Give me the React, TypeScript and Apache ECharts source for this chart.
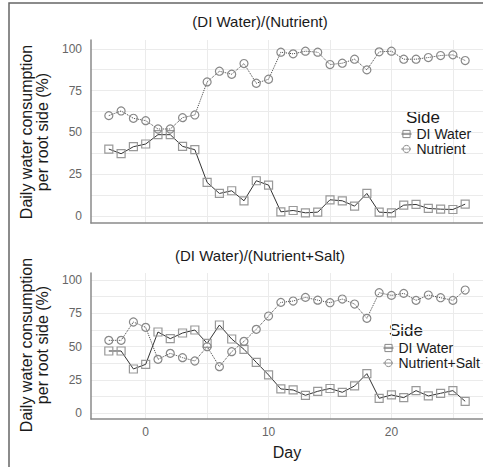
import React, { useEffect, useRef } from "react";
import * as echarts from "echarts";

const days = [-3, -2, -1, 0, 1, 2, 3, 4, 5, 6, 7, 8, 9, 10, 11, 12, 13, 14, 15, 16, 17, 18, 19, 20, 21, 22, 23, 24, 25, 26];

const topDI = [40, 37.2, 41.4, 43, 48.6, 48.6, 41.6, 39.6, 20, 13.4, 15, 9, 21, 18.4, 2.4, 3.2, 1.8, 2.2, 9.6, 9, 5.8, 13.4, 2.2, 1.8, 6.4, 6.8, 4.4, 4, 3.8, 7];
const topNutrient = [60, 62.8, 58.4, 57, 52, 52, 58.8, 60.4, 80.2, 86.6, 84.8, 91.2, 79.4, 81.8, 98, 97, 98.6, 98, 90.6, 91.4, 93.8, 87.4, 98.2, 98.6, 93.8, 93.8, 94.8, 96, 96.4, 93];

const botDI = [46.75, 46.75, 33.25, 36.75, 61, 56, 60.25, 62.5, 52.5, 66.25, 55.75, 48, 38.25, 28.75, 18.25, 17.5, 13.5, 16.5, 18.6, 15.75, 20.5, 29.75, 11.25, 13.75, 11.75, 17, 13, 15, 17, 9];
const botNutrientSalt = [54.75, 54.75, 68.5, 64.5, 40.5, 45, 41.75, 39.25, 50, 35, 46.25, 54, 63, 73, 83.25, 84.25, 87, 84.9, 83, 85.75, 82, 71.25, 90.5, 88.5, 90, 84.75, 88.75, 86.75, 84.75, 92.5];

const xLabelTicks = [0, 10, 20];
const xGridTicks = [0, 5, 10, 15, 20, 25];
const yLabelTicks = [0, 25, 50, 75, 100];
const yGridTicks = [0, 12.5, 25, 37.5, 50, 62.5, 75, 87.5, 100];

const titles = ["(DI Water)/(Nutrient)", "(DI Water)/(Nutrient+Salt)"];
const yTitle = "Daily water consumption\nper root side (%)";

const FONT = "'Liberation Sans', Arial, Helvetica, sans-serif";

function pairs(vals: number[]) {
  return days.map((d, i) => [d, vals[i]]);
}

export default function App() {
  const ref = useRef<HTMLDivElement>(null);
  useEffect(() => {
    if (!ref.current) return;
    const chart = echarts.init(ref.current, null, { renderer: "svg" });
    const gridColor = "#ebebeb";
    const axisLineStyle = { color: "#8a8a8a", width: 1.5 };
    const mkX = (gridIndex: number, showLabels: boolean) => ({
      type: "value",
      gridIndex,
      min: -4.45,
      max: 27.45,
      axisLine: { show: true, onZero: false, lineStyle: axisLineStyle },
      axisTick: { show: false, customValues: xGridTicks },
      axisLabel: {
        show: showLabels,
        customValues: xLabelTicks,
        color: "#666",
        fontSize: 12,
        fontFamily: FONT,
        margin: 7,
      },
      splitLine: { show: true, lineStyle: { color: gridColor, width: 1 } },
      name: showLabels ? "Day" : "",
      nameLocation: "middle",
      nameGap: 25,
      nameTextStyle: { fontSize: 16, fontFamily: FONT, color: "#1a1a1a" },
    });
    const mkY = (gridIndex: number) => ({
      type: "value",
      gridIndex,
      min: -4.3,
      max: 105.3,
      axisLine: { show: true, onZero: false, lineStyle: axisLineStyle },
      axisTick: { show: false, customValues: yGridTicks },
      axisLabel: {
        customValues: yLabelTicks,
        color: "#666",
        fontSize: 12,
        fontFamily: FONT,
        margin: 9,
      },
      splitLine: { show: true, lineStyle: { color: gridColor, width: 1 } },
    });
    const diStyle = (xi: number, name: string, data: number[]) => ({
      type: "line",
      name,
      xAxisIndex: xi,
      yAxisIndex: xi,
      data: pairs(data),
      symbol: "rect",
      symbolSize: 8,
      itemStyle: { color: "transparent", borderColor: "#999", borderWidth: 1.2 },
      lineStyle: { color: "#333", width: 1, type: "solid" },
    });
    const nutStyle = (xi: number, name: string, data: number[]) => ({
      type: "line",
      name,
      xAxisIndex: xi,
      yAxisIndex: xi,
      data: pairs(data),
      symbol: "circle",
      symbolSize: 8,
      itemStyle: { color: "transparent", borderColor: "#888", borderWidth: 1.2 },
      lineStyle: { color: "#444", width: 1, type: "dotted" },
    });
    const legendBase = {
      orient: "vertical",
      itemWidth: 10,
      itemHeight: 9,
      itemGap: 1,
      padding: 0,
      itemStyle: { color: "transparent", borderColor: "#888", borderWidth: 1 },
      lineStyle: { color: "#444", width: 1 },
      textStyle: { fontSize: 14, lineHeight: 14, color: "#1a1a1a", fontFamily: FONT },
      selectedMode: false,
    };
    chart.setOption({
      animation: false,
      backgroundColor: "#fff",
      grid: [
        { left: 91, top: 40, right: 0, height: 183 },
        { left: 91, top: 273, right: 0, height: 146 },
      ],
      xAxis: [mkX(0, false), mkX(1, true)],
      yAxis: [mkY(0), mkY(1)],
      legend: [
        { ...legendBase, left: 401, top: 127, data: ["DI Water", "Nutrient"] },
        { ...legendBase, left: 383, top: 341, data: ["DI Water", "Nutrient+Salt"] },
      ],
      series: [
        diStyle(0, "DI Water", topDI),
        nutStyle(0, "Nutrient", topNutrient),
        diStyle(1, "DI Water", botDI),
        nutStyle(1, "Nutrient+Salt", botNutrientSalt),
      ],
      graphic: [
        {
          type: "polyline",
          shape: { points: [[9, 470], [9, 3], [490, 3]] },
          style: { stroke: "#666", lineWidth: 1.5, fill: "none" },
          silent: true,
        },
        {
          type: "text",
          x: 260,
          y: 21,
          style: { text: titles[0], font: `15px ${FONT}`, fill: "#1a1a1a", align: "center", verticalAlign: "middle" },
        },
        {
          type: "text",
          x: 260,
          y: 255,
          style: { text: titles[1], font: `15px ${FONT}`, fill: "#1a1a1a", align: "center", verticalAlign: "middle" },
        },
        {
          type: "text",
          x: 34,
          y: 132,
          rotation: Math.PI / 2,
          style: { text: yTitle, font: `16px ${FONT}`, lineHeight: 16, fill: "#1a1a1a", align: "center", verticalAlign: "middle" },
        },
        {
          type: "text",
          x: 34,
          y: 345,
          rotation: Math.PI / 2,
          style: { text: yTitle, font: `16px ${FONT}`, lineHeight: 16, fill: "#1a1a1a", align: "center", verticalAlign: "middle" },
        },
        {
          type: "text",
          x: 406,
          y: 117,
          style: { text: "Side", font: `17px ${FONT}`, fill: "#1a1a1a", align: "left", verticalAlign: "middle" },
        },
        {
          type: "text",
          x: 389,
          y: 330,
          style: { text: "Side", font: `17px ${FONT}`, fill: "#1a1a1a", align: "left", verticalAlign: "middle" },
        },
      ],
    });
    return () => chart.dispose();
  }, []);
  return (
    <div
      ref={ref}
      style={{ position: "absolute", left: 0, top: 0, width: 483, height: 467 }}
    />
  );
}
